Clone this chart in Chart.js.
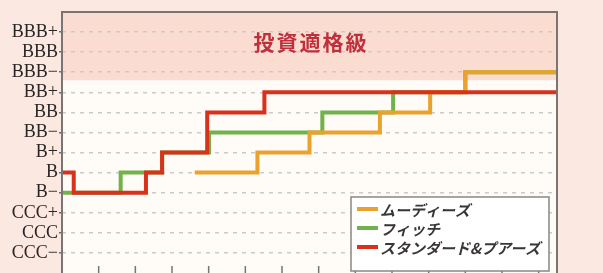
<!DOCTYPE html>
<html>
<head>
<meta charset="utf-8">
<script src="https://cdn.jsdelivr.net/npm/chart.js@4/dist/chart.umd.min.js"></script>
<style>
  html, body { margin: 0; padding: 0; background: #fbe8e0; overflow: hidden; }
  #wrap { width: 603px; height: 273px; }
</style>
</head>
<body>
<div id="wrap"><canvas id="ratingChart" width="603" height="273"></canvas></div>
<script>
// rating scale, bottom to top
const ratingLabels = ['CCC−', 'CCC', 'CCC+', 'B−', 'B', 'B+', 'BB−', 'BB', 'BB+', 'BBB−', 'BBB', 'BBB+'];

// each point = the x where a new rating starts (stepped line)
const moodysX = [3.62, 5.33, 6.75, 8.67, 10.04, 11.0, 13.5];
const moodysR = ['B', 'B+', 'BB−', 'BB', 'BB+', 'BBB−', 'BBB−'];

const fitchX = [0, 1.6, 2.73, 4.01, 7.1, 9.03, 11.0, 13.5];
const fitchR = ['B−', 'B', 'B+', 'BB−', 'BB', 'BB+', 'BBB−', 'BBB−'];

const spX = [0, 0.32, 2.29, 2.73, 3.96, 5.52, 13.5];
const spR = ['B', 'B−', 'B', 'B+', 'BB', 'BB+', 'BB+'];

const seriesNames = ['ムーディーズ', 'フィッチ', 'スタンダード&プアーズ'];
const seriesColors = ['#eba22c', '#72b24a', '#d8321c'];

const bandFrom = 8.6;   // investment grade zone starts here
const bandLabel = '投資適格級';
const xTicks = [1, 2, 3, 4, 5, 6, 7, 8, 9, 10, 11, 12, 13];

function toPoints(xs, rs) {
    return xs.map((x, i) => ({ x: x, y: ratingLabels.indexOf(rs[i]) }));
}

const decor = {
    id: 'decor',
    beforeDraw(chart) {
        const { ctx, chartArea: a, scales: { y } } = chart;
        ctx.save();
        ctx.fillStyle = '#fffbf7';
        ctx.fillRect(a.left, a.top, a.right - a.left, a.bottom - a.top);
        const yb = y.getPixelForValue(bandFrom);
        ctx.fillStyle = '#fadcd1';
        ctx.fillRect(a.left, a.top, a.right - a.left, yb - a.top);
        ctx.restore();
    },
    afterDraw(chart) {
        const { ctx, chartArea: a, scales: { x } } = chart;
        ctx.save();
        // frame
        ctx.strokeStyle = '#7a7472';
        ctx.lineWidth = 2;
        ctx.beginPath();
        ctx.moveTo(a.left, a.bottom + 2);
        ctx.lineTo(a.left, a.top);
        ctx.lineTo(a.right, a.top);
        ctx.lineTo(a.right, a.bottom + 2);
        ctx.stroke();
        // inner ticks on the bottom edge
        ctx.lineWidth = 1.5;
        xTicks.forEach(t => {
            const px = x.getPixelForValue(t);
            ctx.beginPath();
            ctx.moveTo(px, a.bottom);
            ctx.lineTo(px, a.bottom - 7);
            ctx.stroke();
        });
        // zone label
        ctx.fillStyle = '#bf2f3c';
        ctx.font = 'bold 21px "Noto Sans CJK JP"';
        ctx.textAlign = 'center';
        ctx.textBaseline = 'middle';
        ctx.letterSpacing = '2px';
        ctx.fillText(bandLabel, 311, 42);
        ctx.letterSpacing = '0px';
        // legend box
        const lx = 351, ly = 197, lw = 198, lh = 74;
        ctx.fillStyle = '#ffffff';
        ctx.fillRect(lx, ly, lw, lh);
        ctx.strokeStyle = '#8a8686';
        ctx.lineWidth = 1.5;
        ctx.strokeRect(lx, ly, lw, lh);
        ctx.textAlign = 'left';
        ctx.font = 'italic bold 15px "Noto Sans CJK JP"';
        seriesNames.forEach((name, i) => {
            const ry = ly + 12 + i * 19;
            ctx.strokeStyle = seriesColors[i];
            ctx.lineWidth = 4;
            ctx.beginPath();
            ctx.moveTo(lx + 6, ry);
            ctx.lineTo(lx + 27, ry);
            ctx.stroke();
            ctx.fillStyle = '#3a3636';
            ctx.fillText(name, lx + 29, ry + 1);
        });
        ctx.restore();
    }
};

new Chart(document.getElementById('ratingChart'), {
    type: 'line',
    data: {
        datasets: [
            {
                label: seriesNames[0],
                data: toPoints(moodysX, moodysR),
                borderColor: seriesColors[0],
                order: 1
            },
            {
                label: seriesNames[1],
                data: toPoints(fitchX, fitchR),
                borderColor: seriesColors[1],
                order: 2
            },
            {
                label: seriesNames[2],
                data: toPoints(spX, spR),
                borderColor: seriesColors[2],
                order: 0
            }
        ]
    },
    options: {
        responsive: false,
        animation: false,
        layout: { autoPadding: false, padding: { top: 12, right: 46, bottom: 0, left: 0 } },
        elements: {
            line: { stepped: true, borderWidth: 4, borderJoinStyle: 'miter', borderCapStyle: 'butt', fill: false },
            point: { radius: 0 }
        },
        plugins: {
            legend: { display: false },
            tooltip: { enabled: false }
        },
        scales: {
            x: {
                type: 'linear',
                display: false,
                min: 0,
                max: 13.5
            },
            y: {
                min: -1,
                max: 12,
                afterFit(scale) {
                    scale.width = 62;
                    scale.paddingTop = 0;
                    scale.paddingBottom = 0;
                },
                border: { display: false, dash: [4, 5] },
                grid: {
                    color: c => (c.tick.value < 0 || c.tick.value > 11) ? 'rgba(0,0,0,0)' : '#cfc9cc',
                    lineWidth: 1.5,
                    tickLength: 3,
                    tickColor: c => (c.tick.value < 0 || c.tick.value > 11) ? 'rgba(0,0,0,0)' : '#6f6a6a'
                },
                ticks: {
                    stepSize: 1,
                    autoSkip: false,
                    padding: 1,
                    color: '#2a2626',
                    font: { family: '"Liberation Serif"', size: 18 },
                    callback: v => ratingLabels[v] || ''
                }
            }
        }
    },
    plugins: [decor]
});
</script>
</body>
</html>
